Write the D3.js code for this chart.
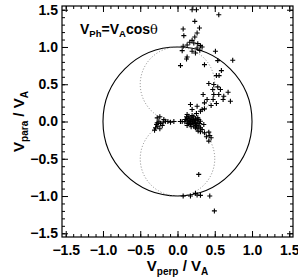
<!DOCTYPE html>
<html><head><meta charset="utf-8">
<script src="https://cdn.jsdelivr.net/npm/d3@7"></script>
<style>
body{margin:0;background:#fff;}
svg{display:block;font-family:"Liberation Sans",Arial,sans-serif;}
</style></head>
<body>
<script>
// V_perp / V_A values of the observed points
const vPerp = [
 0.196,0.254,0.554,0.232,0.295,0.076,0.263,0.085,0.232,0.196,0.165,0.219,0.272,0.129,0.308,0.076,0.263,0.330,0.063,0.196,0.299,0.241,0.121,0.129,0.040,0.362,0.509,0.540,0.741,0.589,0.522,0.558,0.420,0.487,0.540,0.473,0.679,0.576,0.621,0.554,0.487,0.344,0.397,0.362,0.478,0.522,0.710,0.612,0.451,0.174,0.263,0.330,0.196,0.308,0.362,0.254,0.129,
 -0.272,-0.237,-0.183,-0.250,-0.281,-0.295,-0.308,-0.263,-0.228,-0.192,-0.161,-0.129,-0.094,-0.049,0.040,-0.237,-0.205,-0.272,
 0.121,0.152,0.183,0.219,0.241,0.263,0.196,0.165,0.129,0.098,0.228,0.272,0.299,0.210,0.174,0.138,0.254,0.286,0.219,0.183,0.308,0.330,0.263,0.152,0.107,0.063,0.241,0.286,0.196,0.308,0.353,0.129,0.241,0.277,0.174,0.210,0.152,0.241,0.196,0.129,0.272,
 0.308,0.362,0.420,0.433,0.451,0.420,0.388,0.285,
 0.076,0.174,0.241,0.263,0.308,0.433,0.495
];
// V_para / V_A values of the observed points
const vPara = [
 1.50,1.50,1.433,1.344,1.254,1.241,1.188,1.152,1.134,1.089,1.063,1.054,1.045,1.027,1.018,1.009,0.987,1.000,0.951,0.942,0.955,0.920,0.839,0.866,0.750,0.763,0.942,0.817,0.821,0.683,0.616,0.616,0.509,0.496,0.464,0.429,0.393,0.429,0.339,0.362,0.362,0.362,0.295,0.250,0.295,0.241,0.272,0.295,0.214,0.228,0.205,0.161,0.161,0.138,0.170,0.107,0.094,
 0.049,0.063,0.027,0.004,-0.040,-0.085,-0.116,-0.063,-0.027,-0.009,0.004,0.000,-0.009,0.000,0.000,-0.098,-0.054,-0.018,
 0.063,0.071,0.049,0.063,0.036,0.018,0.018,0.004,0.018,-0.004,-0.009,-0.018,-0.027,-0.027,-0.040,-0.027,-0.054,-0.063,-0.063,-0.071,-0.085,-0.107,-0.098,0.036,0.027,0.000,0.018,0.027,0.080,0.004,-0.040,-0.054,-0.085,-0.129,0.004,0.027,-0.018,-0.027,-0.009,0.045,0.049,
 -0.138,-0.152,-0.143,-0.188,-0.219,-0.263,-0.205,-0.710,
 -1.000,-1.000,-0.964,-0.987,-0.991,-1.000,-1.200
];
const majorTicks = [-1.5,-1.0,-0.5,0.0,0.5,1.0,1.5];
const minorTicks = d3.range(-15,16).map(d=>d/10);
const domain = [-1.55,1.55];

const W=298,H=279;
const L=62,R=293,T=6,B=237;
const svg=d3.select("body").append("svg").attr("width",W).attr("height",H);
const x=d3.scaleLinear().domain(domain).range([L,R]);
const y=d3.scaleLinear().domain(domain).range([B,T]);

// reference circles
const g=svg.append("g");
g.append("ellipse").attr("cx",x(0)).attr("cy",y(0))
 .attr("rx",x(1)-x(0)).attr("ry",y(0)-y(1))
 .attr("fill","none").attr("stroke","#000").attr("stroke-width",1.1);
[0.5,-0.5].forEach(c=>{
 g.append("ellipse").attr("cx",x(0)).attr("cy",y(c))
  .attr("rx",x(0.5)-x(0)).attr("ry",y(0)-y(0.5))
  .attr("fill","none").attr("stroke","#777").attr("stroke-width",0.9)
  .attr("stroke-dasharray","1,2");
});

// points
const pts=vPerp.map((v,i)=>[v,vPara[i]]);
svg.append("g").selectAll("path").data(pts).join("path")
 .attr("d",d=>`M${x(d[0])-2.5},${y(d[1])}h5M${x(d[0])},${y(d[1])-2.5}v5`)
 .attr("stroke","#000").attr("stroke-width",1.1).attr("fill","none");

// axes
function styleAxis(sel){
 sel.attr("font-family",null).attr("font-size",null);
 sel.select(".domain").remove();
 sel.selectAll(".tick line").attr("stroke","#000").attr("stroke-width",1);
 sel.selectAll("text").attr("font-size",14).attr("font-weight","bold").attr("fill","#000")
   .attr("font-family","'Liberation Sans',Arial,sans-serif");
}
const fmt=d3.format(".1f");
function mk(axFn, tr, lab){
 const a1=axFn().tickValues(minorTicks).tickSize(-3).tickFormat("");
 svg.append("g").attr("transform",tr).call(a1).call(styleAxis);
 const a2=axFn().tickValues(majorTicks).tickSize(-6)
   .tickFormat(lab?fmt:"").tickPadding(lab?8:0);
 return svg.append("g").attr("transform",tr).call(a2).call(styleAxis);
}
mk(()=>d3.axisBottom(x),`translate(0,${B})`,true);
mk(()=>d3.axisTop(x),`translate(0,${T})`,false);
const la=mk(()=>d3.axisLeft(y),`translate(${L},0)`,true);
la.selectAll("text").attr("x",-4);
mk(()=>d3.axisRight(y),`translate(${R},0)`,false);

// frame
svg.append("rect").attr("x",L).attr("y",T).attr("width",R-L).attr("height",B-T)
 .attr("fill","none").attr("stroke","#000").attr("stroke-width",1.2);

// titles
function subTitle(sel, main, sub, main2, sub2){
 sel.attr("font-weight","bold").attr("font-size",15).attr("fill","#000");
 sel.append("tspan").text(main);
 sel.append("tspan").attr("font-size",10).attr("dy",4).text(sub);
 sel.append("tspan").attr("dy",-4).text(main2);
 sel.append("tspan").attr("font-size",10).attr("dy",4).text(sub2);
}
svg.append("text").attr("x",x(0)).attr("y",271).attr("text-anchor","middle")
 .call(subTitle,"V","perp"," / V","A");
svg.append("text").attr("transform",`translate(24,${y(0)}) rotate(-90)`).attr("text-anchor","middle")
 .call(subTitle,"V","para"," / V","A");

// annotation
const an=svg.append("text").attr("x",80).attr("y",34).attr("font-weight","bold")
 .attr("font-size",14).attr("fill","#000");
an.append("tspan").text("V");
an.append("tspan").attr("font-size",9.5).attr("dy",3).text("Ph");
an.append("tspan").attr("dy",-3).text("=V");
an.append("tspan").attr("font-size",9.5).attr("dy",3).text("A");
an.append("tspan").attr("dy",-3).text("cos");
an.append("tspan").attr("font-weight","normal").attr("font-family","'DejaVu Serif',serif").attr("font-size",13).text("θ");
</script>
</body></html>
